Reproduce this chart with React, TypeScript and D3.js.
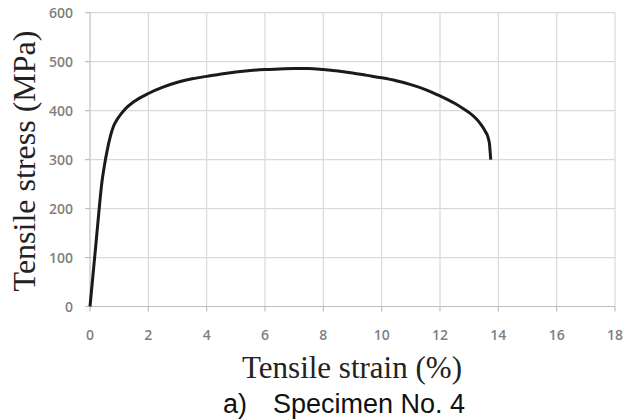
import React from "react";
import * as d3 from "d3";

const strain = [0, 0.1, 0.2, 0.3, 0.4, 0.5, 0.6, 0.7, 0.8, 0.9, 1.0, 1.2, 1.5, 2.0, 2.5, 3.0, 3.5, 4.0, 4.5, 5.0, 5.5, 6.0, 6.5, 7.0, 7.5, 8.0, 8.5, 9.0, 9.5, 10.0, 10.5, 11.0, 11.5, 12.0, 12.5, 12.8, 13.0, 13.2, 13.4, 13.55, 13.65, 13.7, 13.72, 13.74];
const stress = [0, 63, 126, 190, 250, 290, 322, 348, 367, 379, 388, 403, 418, 435, 448, 458, 465, 470, 475, 479, 482, 484, 485, 486, 486, 484, 481, 477, 472, 467, 461, 453, 443, 430, 415, 404, 396, 386, 372, 358, 345, 330, 315, 300];
const xTicks = [0, 2, 4, 6, 8, 10, 12, 14, 16, 18];
const yTicks = [0, 100, 200, 300, 400, 500, 600];

const W = 624;
const H = 419;

export default function App() {
  const x = d3.scaleLinear().domain([0, 18]).range([90, 615]);
  const y = d3.scaleLinear().domain([0, 600]).range([306.5, 12.7]);
  const pts: [number, number][] = strain.map((s, i) => [s, stress[i]]);
  const line = d3
    .line<[number, number]>()
    .x((d) => x(d[0]))
    .y((d) => y(d[1]))
    .curve(d3.curveMonotoneX);
  const grid = "#d9d9d9";
  const tickFont = { fontFamily: "'Open Sans', sans-serif", fontSize: 14, fontWeight: 600, fill: "#7f7f7f" } as const;
  return (
    <svg width={W} height={H} style={{ position: "absolute", left: 0, top: 0, background: "#fff" }}>
      {xTicks.slice(1).map((t) => (
        <line key={"gx" + t} x1={x(t)} x2={x(t)} y1={y(600)} y2={y(0)} stroke={grid} strokeWidth={1.2} />
      ))}
      {yTicks.slice(1).map((t) => (
        <line key={"gy" + t} x1={x(0)} x2={x(18)} y1={y(t)} y2={y(t)} stroke={grid} strokeWidth={1.2} />
      ))}
      <line x1={x(0)} x2={x(0)} y1={y(600)} y2={y(0)} stroke="#bfbfbf" strokeWidth={1.2} />
      <line x1={x(0)} x2={x(18)} y1={y(0)} y2={y(0)} stroke="#bfbfbf" strokeWidth={1.2} />
      {xTicks.map((t) => (
        <g key={"xt" + t}>
          <line x1={x(t)} x2={x(t)} y1={y(0)} y2={y(0) + 5} stroke="#bfbfbf" strokeWidth={1.2} />
          <text x={x(t)} y={340} textAnchor="middle" {...tickFont}>
            {t}
          </text>
        </g>
      ))}
      {yTicks.map((t) => (
        <g key={"yt" + t}>
          <line x1={x(0) - 5} x2={x(0)} y1={y(t)} y2={y(t)} stroke="#bfbfbf" strokeWidth={1.2} />
          <text x={73} y={y(t) + 5} textAnchor="end" {...tickFont}>
            {t}
          </text>
        </g>
      ))}
      <path d={line(pts) || ""} fill="none" stroke="#1a1a1a" strokeWidth={3} strokeLinejoin="round" />
      <text
        transform={`translate(35, 161) rotate(-90)`}
        textAnchor="middle"
        fontFamily="'Liberation Serif', serif"
        fontSize={32}
        fill="#222"
      >
        Tensile stress (MPa)
      </text>
      <text x={352} y={378} textAnchor="middle" fontFamily="'Liberation Serif', serif" fontSize={31} fill="#222">
        Tensile strain (%)
      </text>
      <text x={223} y={413} fontFamily="'Liberation Sans', Arial, sans-serif" fontSize={27} fill="#111">
        a)
      </text>
      <text x={273} y={413} fontFamily="'Liberation Sans', Arial, sans-serif" fontSize={27} fill="#111">
        Specimen No. 4
      </text>
    </svg>
  );
}
